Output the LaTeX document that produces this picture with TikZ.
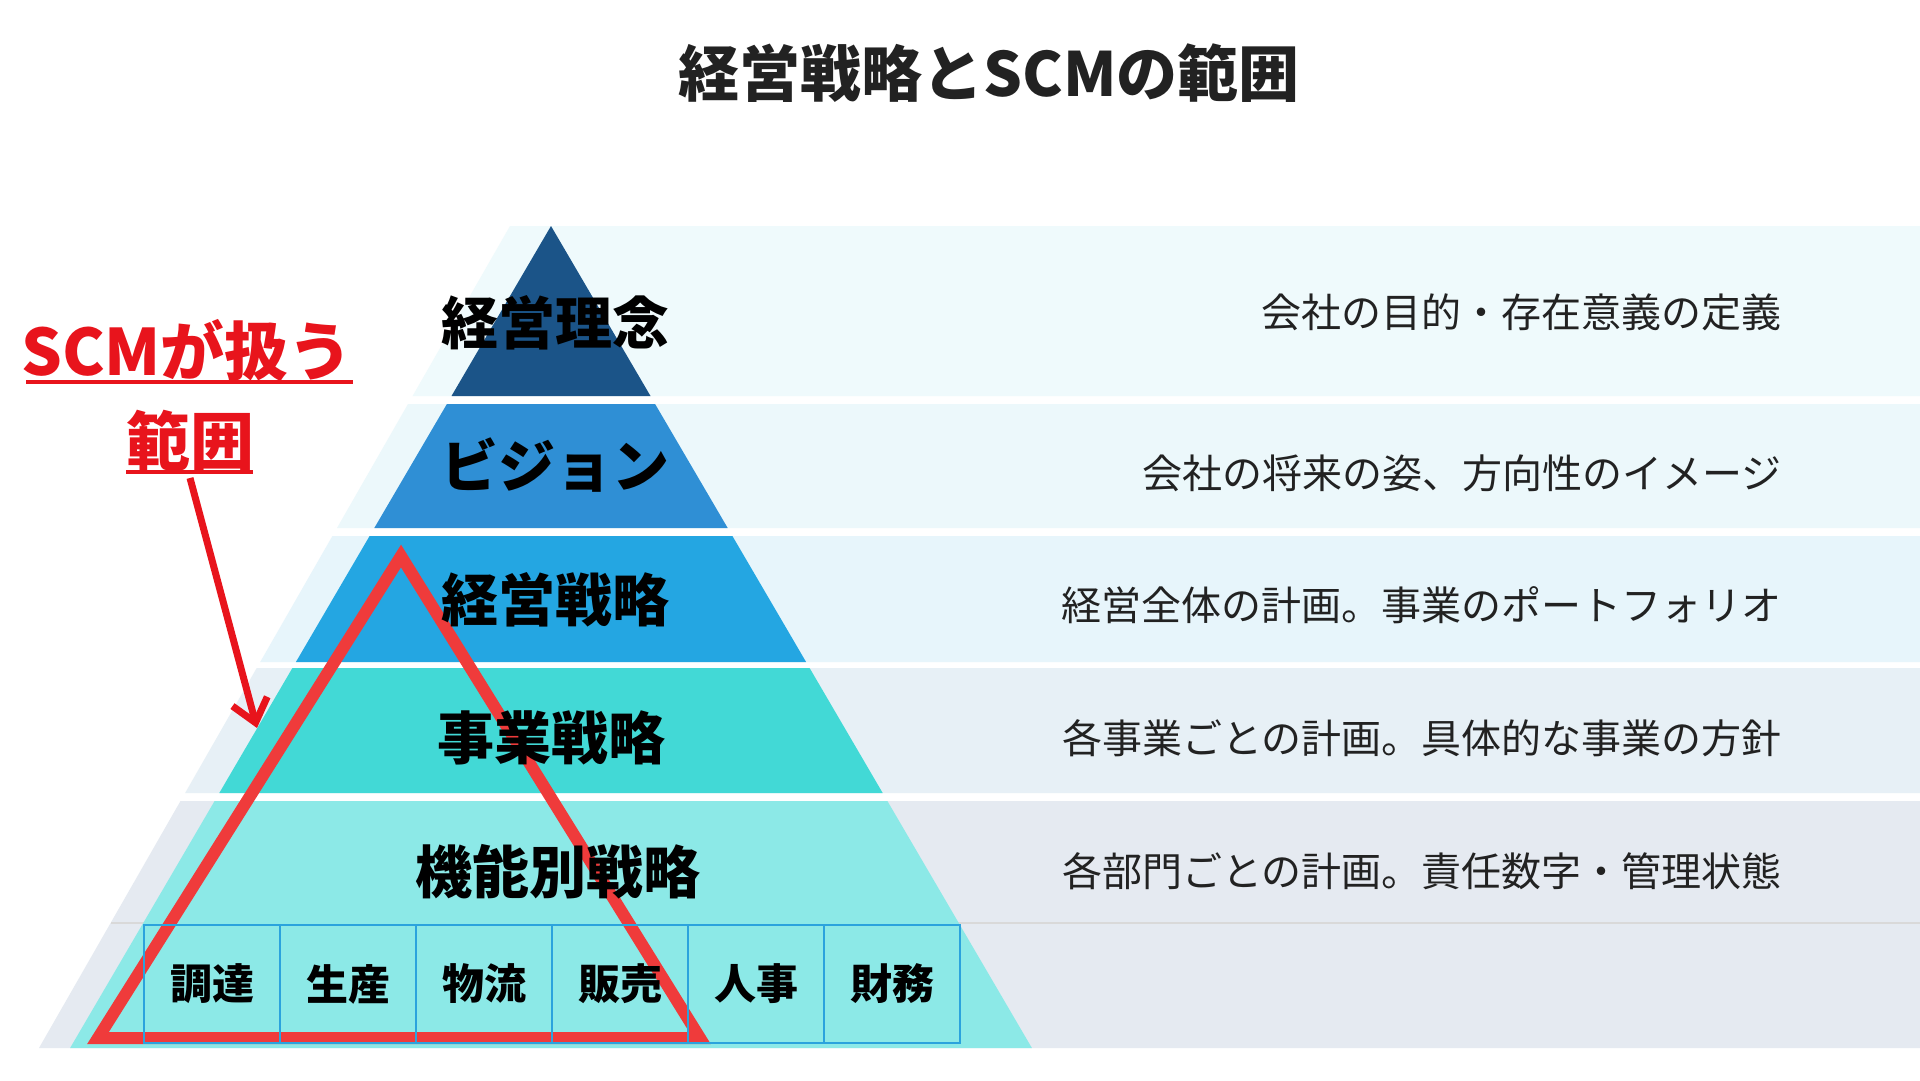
\documentclass[tikz,border=0pt]{standalone}
\usepackage{fontspec}
\setmainfont{Noto Sans CJK JP}
\usepackage{tikz}
\usetikzlibrary{calc, arrows.meta, positioning}
\definecolor{navyL}{HTML}{1B5488}
\definecolor{visionL}{HTML}{2F8FD5}
\definecolor{stratL}{HTML}{24A6E2}
\definecolor{bizL}{HTML}{42D9D6}
\definecolor{funcL}{HTML}{8CE9E7}
\definecolor{boxLine}{HTML}{2BA3DD}
\definecolor{bandA}{HTML}{EFFAFC}
\definecolor{bandB}{HTML}{ECF8FB}
\definecolor{bandC}{HTML}{E7F5FB}
\definecolor{bandD}{HTML}{E7F0F6}
\definecolor{bandE}{HTML}{E5EAF1}
\definecolor{scmRed}{HTML}{E8141C}
\definecolor{triRed}{HTML}{EF3B3B}
\definecolor{textDark}{HTML}{222222}

\begin{document}
\begin{tikzpicture}[x=1pt, y=-1pt,
	layerlbl/.style={inner sep=0pt, font=\fontsize{57}{60}\selectfont\bfseries, text=black},
	desclbl/.style={inner sep=0pt, anchor=east, font=\fontsize{40}{44}\selectfont, text=textDark},
	funcbox/.style={draw=boxLine, line width=2.5pt, minimum width=136pt, minimum height=118pt,
		inner sep=0pt, outer sep=0pt, font=\fontsize{42}{44}\selectfont\bfseries},
	redlbl/.style={inner sep=0pt, font=\fontsize{64}{68}\selectfont\bfseries, text=scmRed}]
		\useasboundingbox (0,0) rectangle (1920,1080);
		\fill[white] (0,0) rectangle (1920,1080);
		%-------------------------------------------------------------------------------
		% background bands
		%-------------------------------------------------------------------------------
		\fill[bandA] (510,226) -- (1920,226) -- (1920,396) -- (412.6,396) -- cycle;
		\fill[bandB] (408,404) -- (1920,404) -- (1920,528) -- (337,528) -- cycle;
		\fill[bandC] (332.4,536) -- (1920,536) -- (1920,662) -- (260.2,662) -- cycle;
		\fill[bandD] (256.7,668) -- (1920,668) -- (1920,793) -- (185.1,793) -- cycle;
		\fill[bandE] (180.5,801) -- (1920,801) -- (1920,1048) -- (39,1048) -- cycle;
		\draw[line width=1.2pt, gray!30] (111,923) -- (1920,923);
		
		% pyramid layers
		\fill[navyL] (551,226) -- (650.5,396) -- (451.5,396) -- cycle;
		\fill[visionL] (446.9,404) -- (655.1,404) -- (727.7,528) -- (374.3,528) -- cycle;
		\fill[stratL] (369.6,536) -- (732.4,536) -- (806.1,662) -- (295.9,662) -- cycle;
		\fill[bizL] (292.4,668) -- (809.6,668) -- (882.7,793) -- (219.3,793) -- cycle;
		\fill[funcL] (214.6,801) -- (887.4,801) -- (1031.9,1048) -- (70.1,1048) -- cycle;
		
		% scope of SCM
		\draw[triRed, line width=12pt, line join=miter] (401,556) -- (98,1038) -- (700,1038) -- cycle;
		
		% functions
		\node[funcbox] (proc) at (212,984) {調達};
		\node[funcbox, right=0pt of proc] (prod) {生産};
		\node[funcbox, right=0pt of prod] (logi) {物流};
		\node[funcbox, right=0pt of logi] (sales) {販売};
		\node[funcbox, right=0pt of sales] (hr) {人事};
		\node[funcbox, right=0pt of hr] (fin) {財務};
		
		% layer labels
		\node[layerlbl] (phil) at (555,323) {経営理念};
		\node[layerlbl] (vision) at (555,465) {ビジョン};
		\node[layerlbl] (corp) at (555,600) {経営戦略};
		\node[layerlbl] (biz) at (551,738) {事業戦略};
		\node[layerlbl] (func) at (558,872) {機能別戦略};
		
		% descriptions
		\node[desclbl] (philtxt) at (1782,312) {会社の目的・存在意義の定義};
		\node[desclbl] (visiontxt) at (1782,473) {会社の将来の姿、方向性のイメージ};
		\node[desclbl] (corptxt) at (1782,605) {経営全体の計画。事業のポートフォリオ};
		\node[desclbl] (biztxt) at (1782,738) {各事業ごとの計画。具体的な事業の方針};
		\node[desclbl] (functxt) at (1782,871) {各部門ごとの計画。責任数字・管理状態};
		
		% title
		\node[inner sep=0pt, font=\fontsize{61}{64}\selectfont\bfseries, text=textDark] (title)
			at (989,73) {経営戦略とSCMの範囲};
		
		% SCM label and arrow
		\node[redlbl] (scmlbl) at (187,350) {SCMが扱う};
		\node[redlbl] (rangelbl) at (190,441) {範囲};
		\draw[scmRed, line width=4.5pt] (26,382) -- (353,382);
		\draw[scmRed, line width=4.5pt] (126,472) -- (253,472);
		\coordinate (arrstart) at (190,478);
		\coordinate (arrtip) at (257,728);
		\draw[scmRed, line width=7pt, -{Straight Barb[length=22pt, width=36pt, line width=7pt]}] (arrstart) -- (arrtip);
\end{tikzpicture}
\end{document}
